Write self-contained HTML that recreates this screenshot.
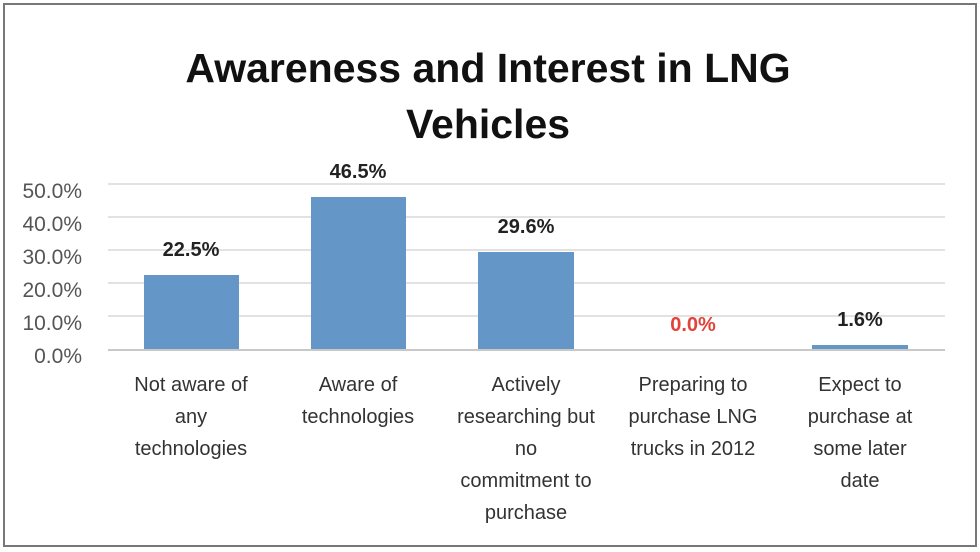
<!DOCTYPE html>
<html><head><style>
body{margin:0;background:#fff;}
svg{display:block;font-family:"Liberation Sans",sans-serif;}
</style></head><body>
<svg width="980" height="552" viewBox="0 0 980 552">
<rect x="0" y="0" width="980" height="552" fill="#fff"/>
<rect x="4" y="4" width="972" height="542" fill="none" stroke="#777" stroke-width="2"/>
<text x="488" y="82" font-size="41" font-weight="bold" text-anchor="middle" fill="#111">Awareness and Interest in LNG</text>
<text x="488" y="138" font-size="41" font-weight="bold" text-anchor="middle" fill="#111">Vehicles</text>
<g stroke="#e2e2e2" stroke-width="2">
<line x1="108" x2="945" y1="184" y2="184"/>
<line x1="108" x2="945" y1="217" y2="217"/>
<line x1="108" x2="945" y1="250" y2="250"/>
<line x1="108" x2="945" y1="283" y2="283"/>
<line x1="108" x2="945" y1="316" y2="316"/>
</g>
<g font-size="21" fill="#555" text-anchor="end">
<text x="82" y="198">50.0%</text>
<text x="82" y="231">40.0%</text>
<text x="82" y="264">30.0%</text>
<text x="82" y="297">20.0%</text>
<text x="82" y="330">10.0%</text>
<text x="82" y="363">0.0%</text>
</g>
<g fill="#6496c8">
<rect x="144" y="275" width="95" height="75"/>
<rect x="311" y="197" width="95" height="153"/>
<rect x="478" y="252" width="96" height="98"/>
<rect x="812" y="345" width="96" height="5"/>
</g>
<line x1="108" x2="945" y1="350" y2="350" stroke="#c8c8c8" stroke-width="2"/>
<g font-size="20" font-weight="bold" text-anchor="middle" fill="#222">
<text x="191" y="256">22.5%</text>
<text x="358" y="178">46.5%</text>
<text x="526" y="233">29.6%</text>
<text x="693" y="331" fill="#e0443a">0.0%</text>
<text x="860" y="326">1.6%</text>
</g>
<g font-size="20" text-anchor="middle" fill="#333">
<text x="191" y="391">Not aware of</text>
<text x="191" y="423">any</text>
<text x="191" y="455">technologies</text>
<text x="358" y="391">Aware of</text>
<text x="358" y="423">technologies</text>
<text x="526" y="391">Actively</text>
<text x="526" y="423">researching but</text>
<text x="526" y="455">no</text>
<text x="526" y="487">commitment to</text>
<text x="526" y="519">purchase</text>
<text x="693" y="391">Preparing to</text>
<text x="693" y="423">purchase LNG</text>
<text x="693" y="455">trucks in 2012</text>
<text x="860" y="391">Expect to</text>
<text x="860" y="423">purchase at</text>
<text x="860" y="455">some later</text>
<text x="860" y="487">date</text>
</g>
</svg>
</body></html>
